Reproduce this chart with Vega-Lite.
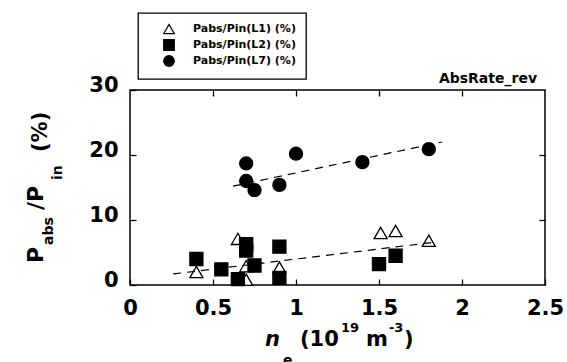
{
  "$schema": "https://vega.github.io/schema/vega-lite/v6.json",
  "width": 415,
  "height": 195,
  "autosize": {"type": "none"},
  "padding": {"left": 130, "top": 90, "right": 22, "bottom": 77},
  "background": "white",
  "config": {
    "font": "DejaVu Sans",
    "view": {"stroke": "black", "strokeWidth": 1.5},
    "axis": {
      "domain": false,
      "grid": false,
      "tickColor": "black",
      "tickWidth": 1.3,
      "tickSize": -6,
      "labelFont": "DejaVu Sans",
      "labelFontWeight": "bold",
      "labelFontSize": 21,
      "labelColor": "black",
      "labelFlush": false,
      "labelOverlap": false,
      "format": "~r",
      "title": null
    },
    "legend": {
      "strokeColor": "black",
      "strokeWidth": 1.3,
      "fillColor": "white",
      "padding": 10,
      "rowPadding": 0,
      "symbolSize": 110,
      "symbolStrokeWidth": 1.3,
      "symbolOffset": 15,
      "labelOffset": 18,
      "labelFont": "DejaVu Sans",
      "labelFontWeight": "bold",
      "labelFontSize": 11,
      "labelColor": "black",
      "labelLimit": 300
    }
  },
  "datasets": {
    "points": [
      {"ne": 0.40, "ratio": 2.0, "series": "Pabs/Pin(L1) (%)"},
      {"ne": 0.65, "ratio": 7.1, "series": "Pabs/Pin(L1) (%)"},
      {"ne": 0.70, "ratio": 2.9, "series": "Pabs/Pin(L1) (%)"},
      {"ne": 0.70, "ratio": 0.8, "series": "Pabs/Pin(L1) (%)"},
      {"ne": 0.90, "ratio": 2.7, "series": "Pabs/Pin(L1) (%)"},
      {"ne": 1.51, "ratio": 8.0, "series": "Pabs/Pin(L1) (%)"},
      {"ne": 1.60, "ratio": 8.3, "series": "Pabs/Pin(L1) (%)"},
      {"ne": 1.80, "ratio": 6.8, "series": "Pabs/Pin(L1) (%)"},
      {"ne": 0.40, "ratio": 4.0, "series": "Pabs/Pin(L2) (%)"},
      {"ne": 0.55, "ratio": 2.4, "series": "Pabs/Pin(L2) (%)"},
      {"ne": 0.65, "ratio": 0.9, "series": "Pabs/Pin(L2) (%)"},
      {"ne": 0.70, "ratio": 6.3, "series": "Pabs/Pin(L2) (%)"},
      {"ne": 0.70, "ratio": 5.3, "series": "Pabs/Pin(L2) (%)"},
      {"ne": 0.75, "ratio": 3.0, "series": "Pabs/Pin(L2) (%)"},
      {"ne": 0.90, "ratio": 5.9, "series": "Pabs/Pin(L2) (%)"},
      {"ne": 0.90, "ratio": 1.1, "series": "Pabs/Pin(L2) (%)"},
      {"ne": 1.50, "ratio": 3.2, "series": "Pabs/Pin(L2) (%)"},
      {"ne": 1.60, "ratio": 4.5, "series": "Pabs/Pin(L2) (%)"},
      {"ne": 0.70, "ratio": 18.7, "series": "Pabs/Pin(L7) (%)"},
      {"ne": 0.70, "ratio": 16.0, "series": "Pabs/Pin(L7) (%)"},
      {"ne": 0.75, "ratio": 14.6, "series": "Pabs/Pin(L7) (%)"},
      {"ne": 0.90, "ratio": 15.4, "series": "Pabs/Pin(L7) (%)"},
      {"ne": 1.00, "ratio": 20.2, "series": "Pabs/Pin(L7) (%)"},
      {"ne": 1.40, "ratio": 18.9, "series": "Pabs/Pin(L7) (%)"},
      {"ne": 1.80, "ratio": 20.9, "series": "Pabs/Pin(L7) (%)"}
    ],
    "fits": [
      {"ne": 0.26, "ratio": 1.7, "fit": "L1"},
      {"ne": 1.84, "ratio": 6.6, "fit": "L1"},
      {"ne": 0.62, "ratio": 15.2, "fit": "L7"},
      {"ne": 1.88, "ratio": 22.0, "fit": "L7"}
    ]
  },
  "resolve": {"axis": {"x": "independent", "y": "independent"}},
  "layer": [
    {
      "data": {"name": "points"},
      "mark": {"type": "point", "filled": true, "opacity": 1, "strokeWidth": 1.3, "size": 170},
      "encoding": {
        "x": {"field": "ne", "type": "quantitative",
              "scale": {"domain": [0, 2.5], "nice": false, "zero": false},
              "axis": {"orient": "bottom", "values": [0, 0.5, 1, 1.5, 2, 2.5], "labelPadding": 18}},
        "y": {"field": "ratio", "type": "quantitative",
              "scale": {"domain": [0, 30], "nice": false, "zero": false},
              "axis": {"orient": "left", "values": [0, 10, 20, 30], "labelPadding": 18, "labelOffset": -5}},
        "shape": {"field": "series", "type": "nominal",
                  "scale": {"domain": ["Pabs/Pin(L1) (%)", "Pabs/Pin(L2) (%)", "Pabs/Pin(L7) (%)"], "range": ["triangle-up", "square", "circle"]},
                  "legend": {"title": null, "orient": "none", "legendX": 8, "legendY": -77}},
        "fill": {"field": "series", "type": "nominal",
                 "scale": {"domain": ["Pabs/Pin(L1) (%)", "Pabs/Pin(L2) (%)", "Pabs/Pin(L7) (%)"], "range": ["white", "black", "black"]},
                 "legend": {"title": null, "orient": "none", "legendX": 8, "legendY": -77}},
        "stroke": {"field": "series", "type": "nominal",
                   "scale": {"domain": ["Pabs/Pin(L1) (%)", "Pabs/Pin(L2) (%)", "Pabs/Pin(L7) (%)"], "range": ["black", "black", "black"]},
                   "legend": {"title": null, "orient": "none", "legendX": 8, "legendY": -77}}
      }
    },
    {
      "data": {"name": "fits"},
      "mark": {"type": "line", "stroke": "black", "strokeWidth": 1.2, "strokeDash": [8, 6]},
      "encoding": {
        "x": {"field": "ne", "type": "quantitative",
              "scale": {"domain": [0, 2.5], "nice": false, "zero": false},
              "axis": {"orient": "top", "values": [0.5, 1, 1.5, 2], "labels": false}},
        "y": {"field": "ratio", "type": "quantitative",
              "scale": {"domain": [0, 30], "nice": false, "zero": false},
              "axis": {"orient": "right", "values": [10, 20], "labels": false}},
        "detail": {"field": "fit", "type": "nominal"}
      }
    },
    {
      "data": {"values": [{}]},
      "mark": {"type": "text", "text": "AbsRate_rev", "align": "right", "baseline": "alphabetic", "fontSize": 14, "fontWeight": "bold", "font": "DejaVu Sans", "color": "black"},
      "encoding": {
        "x": {"datum": 2.452, "type": "quantitative", "scale": {"domain": [0, 2.5], "nice": false, "zero": false}, "axis": null},
        "y": {"datum": 31.08, "type": "quantitative", "scale": {"domain": [0, 30], "nice": false, "zero": false}, "axis": null}
      }
    },
    {
      "data": {"values": [{}]},
      "mark": {"type": "text", "text": "P", "angle": 270, "align": "left", "baseline": "alphabetic", "fontSize": 22, "fontWeight": "bold", "font": "DejaVu Sans", "color": "black"},
      "encoding": {
        "x": {"datum": -0.524, "type": "quantitative", "scale": {"domain": [0, 2.5], "nice": false, "zero": false}, "axis": null},
        "y": {"datum": 3.38, "type": "quantitative", "scale": {"domain": [0, 30], "nice": false, "zero": false}, "axis": null}
      }
    },
    {
      "data": {"values": [{}]},
      "mark": {"type": "text", "text": "abs", "angle": 270, "align": "left", "baseline": "alphabetic", "fontSize": 14, "fontWeight": "bold", "font": "DejaVu Sans", "color": "black"},
      "encoding": {
        "x": {"datum": -0.461, "type": "quantitative", "scale": {"domain": [0, 2.5], "nice": false, "zero": false}, "axis": null},
        "y": {"datum": 6.15, "type": "quantitative", "scale": {"domain": [0, 30], "nice": false, "zero": false}, "axis": null}
      }
    },
    {
      "data": {"values": [{}]},
      "mark": {"type": "text", "text": "/P", "angle": 270, "align": "left", "baseline": "alphabetic", "fontSize": 22, "fontWeight": "bold", "font": "DejaVu Sans", "color": "black"},
      "encoding": {
        "x": {"datum": -0.524, "type": "quantitative", "scale": {"domain": [0, 2.5], "nice": false, "zero": false}, "axis": null},
        "y": {"datum": 11.54, "type": "quantitative", "scale": {"domain": [0, 30], "nice": false, "zero": false}, "axis": null}
      }
    },
    {
      "data": {"values": [{}]},
      "mark": {"type": "text", "text": "in", "angle": 270, "align": "left", "baseline": "alphabetic", "fontSize": 14, "fontWeight": "bold", "font": "DejaVu Sans", "color": "black"},
      "encoding": {
        "x": {"datum": -0.41, "type": "quantitative", "scale": {"domain": [0, 2.5], "nice": false, "zero": false}, "axis": null},
        "y": {"datum": 16.15, "type": "quantitative", "scale": {"domain": [0, 30], "nice": false, "zero": false}, "axis": null}
      }
    },
    {
      "data": {"values": [{}]},
      "mark": {"type": "text", "text": "(%)", "angle": 270, "align": "left", "baseline": "alphabetic", "fontSize": 21, "fontWeight": "bold", "font": "DejaVu Sans", "color": "black"},
      "encoding": {
        "x": {"datum": -0.5, "type": "quantitative", "scale": {"domain": [0, 2.5], "nice": false, "zero": false}, "axis": null},
        "y": {"datum": 20.46, "type": "quantitative", "scale": {"domain": [0, 30], "nice": false, "zero": false}, "axis": null}
      }
    },
    {
      "data": {"values": [{}]},
      "mark": {"type": "text", "text": "n", "align": "left", "baseline": "alphabetic", "fontSize": 21, "fontWeight": "bold", "fontStyle": "italic", "font": "DejaVu Sans", "color": "black"},
      "encoding": {
        "x": {"datum": 0.813, "type": "quantitative", "scale": {"domain": [0, 2.5], "nice": false, "zero": false}, "axis": null},
        "y": {"datum": -9.38, "type": "quantitative", "scale": {"domain": [0, 30], "nice": false, "zero": false}, "axis": null}
      }
    },
    {
      "data": {"values": [{}]},
      "mark": {"type": "text", "text": "e", "align": "left", "baseline": "alphabetic", "fontSize": 14, "fontWeight": "bold", "font": "DejaVu Sans", "color": "black"},
      "encoding": {
        "x": {"datum": 0.922, "type": "quantitative", "scale": {"domain": [0, 2.5], "nice": false, "zero": false}, "axis": null},
        "y": {"datum": -12.31, "type": "quantitative", "scale": {"domain": [0, 30], "nice": false, "zero": false}, "axis": null}
      }
    },
    {
      "data": {"values": [{}]},
      "mark": {"type": "text", "text": "(10", "align": "left", "baseline": "alphabetic", "fontSize": 21, "fontWeight": "bold", "font": "DejaVu Sans", "color": "black"},
      "encoding": {
        "x": {"datum": 1.024, "type": "quantitative", "scale": {"domain": [0, 2.5], "nice": false, "zero": false}, "axis": null},
        "y": {"datum": -9.38, "type": "quantitative", "scale": {"domain": [0, 30], "nice": false, "zero": false}, "axis": null}
      }
    },
    {
      "data": {"values": [{}]},
      "mark": {"type": "text", "text": "19", "align": "left", "baseline": "alphabetic", "fontSize": 13, "fontWeight": "bold", "font": "DejaVu Sans", "color": "black"},
      "encoding": {
        "x": {"datum": 1.271, "type": "quantitative", "scale": {"domain": [0, 2.5], "nice": false, "zero": false}, "axis": null},
        "y": {"datum": -7.23, "type": "quantitative", "scale": {"domain": [0, 30], "nice": false, "zero": false}, "axis": null}
      }
    },
    {
      "data": {"values": [{}]},
      "mark": {"type": "text", "text": "m", "align": "left", "baseline": "alphabetic", "fontSize": 21, "fontWeight": "bold", "font": "DejaVu Sans", "color": "black"},
      "encoding": {
        "x": {"datum": 1.422, "type": "quantitative", "scale": {"domain": [0, 2.5], "nice": false, "zero": false}, "axis": null},
        "y": {"datum": -9.38, "type": "quantitative", "scale": {"domain": [0, 30], "nice": false, "zero": false}, "axis": null}
      }
    },
    {
      "data": {"values": [{}]},
      "mark": {"type": "text", "text": "-3", "align": "left", "baseline": "alphabetic", "fontSize": 13, "fontWeight": "bold", "font": "DejaVu Sans", "color": "black"},
      "encoding": {
        "x": {"datum": 1.56, "type": "quantitative", "scale": {"domain": [0, 2.5], "nice": false, "zero": false}, "axis": null},
        "y": {"datum": -7.23, "type": "quantitative", "scale": {"domain": [0, 30], "nice": false, "zero": false}, "axis": null}
      }
    },
    {
      "data": {"values": [{}]},
      "mark": {"type": "text", "text": ")", "align": "left", "baseline": "alphabetic", "fontSize": 21, "fontWeight": "bold", "font": "DejaVu Sans", "color": "black"},
      "encoding": {
        "x": {"datum": 1.651, "type": "quantitative", "scale": {"domain": [0, 2.5], "nice": false, "zero": false}, "axis": null},
        "y": {"datum": -9.38, "type": "quantitative", "scale": {"domain": [0, 30], "nice": false, "zero": false}, "axis": null}
      }
    }
  ]
}
